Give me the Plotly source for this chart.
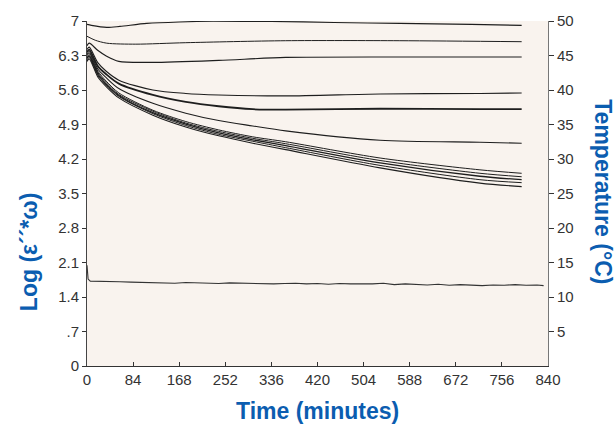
import plotly.graph_objects as go

# ---- data ----
curve_names = ["c1", "c2", "c3", "c4", "c5", "c6", "b1", "b2", "b3", "b4", "b5"]

t_c1 = [0, 8, 36, 60, 109, 168, 230, 336, 450, 570, 700, 792]
v_c1 = [6.93, 6.91, 6.87, 6.89, 6.95, 6.98, 6.995, 6.99, 6.97, 6.95, 6.93, 6.91]

t_c2 = [0, 15, 36, 89, 180, 362, 570, 792]
v_c2 = [6.69, 6.61, 6.55, 6.53, 6.56, 6.60, 6.60, 6.58]

t_c3 = [0, 4, 20, 35, 58, 120, 240, 362, 570, 792]
v_c3 = [6.50, 6.55, 6.40, 6.29, 6.18, 6.16, 6.20, 6.26, 6.27, 6.27]

t_c4 = [0, 4, 20, 35, 58, 120, 180, 240, 362, 534, 716, 792]
v_c4 = [6.42, 6.47, 6.15, 5.98, 5.80, 5.60, 5.53, 5.50, 5.48, 5.52, 5.53, 5.54]

t_c5 = [0, 4, 20, 35, 58, 120, 180, 240, 302, 362, 534, 716, 792]
v_c5 = [6.37, 6.42, 6.08, 5.92, 5.73, 5.50, 5.36, 5.27, 5.21, 5.20, 5.22, 5.21, 5.21]

t_c6 = [0, 4, 20, 35, 58, 120, 180, 240, 302, 362, 534, 716, 792]
v_c6 = [6.33, 6.38, 6.02, 5.85, 5.63, 5.33, 5.13, 4.98, 4.87, 4.77, 4.58, 4.54, 4.52]

t_b = [0, 4, 20, 35, 58, 120, 180, 240, 302, 362, 534, 716, 792]
v_b1 = [6.30, 6.35, 5.98, 5.78, 5.54, 5.19, 4.96, 4.79, 4.65, 4.55, 4.22, 3.98, 3.91]
v_b2 = [6.27, 6.32, 5.95, 5.75, 5.51, 5.17, 4.93, 4.76, 4.62, 4.51, 4.17, 3.91, 3.84]
v_b3 = [6.24, 6.29, 5.92, 5.72, 5.49, 5.14, 4.91, 4.73, 4.59, 4.47, 4.12, 3.85, 3.78]
v_b4 = [6.21, 6.26, 5.89, 5.70, 5.47, 5.12, 4.88, 4.70, 4.56, 4.43, 4.07, 3.78, 3.72]
v_b5 = [6.18, 6.23, 5.86, 5.67, 5.44, 5.09, 4.85, 4.67, 4.52, 4.39, 4.02, 3.71, 3.64]

# temperature trace (right axis, deg C)
t_temp = [0, 2, 6, 20, 40, 60, 80, 100, 120, 140, 160, 180, 200, 220, 240, 260,
          280, 300, 320, 340, 360, 380, 400, 420, 440, 460, 480, 500, 520, 540,
          560, 580, 600, 620, 640, 660, 680, 700, 720, 740, 760, 780, 800, 820, 832]
v_temp = [14.6, 12.6, 12.3, 12.25, 12.2, 12.2, 12.15, 12.1, 12.15, 12.05, 12.0,
          12.1, 12.05, 12.0, 11.95, 12.05, 12.0, 11.95, 12.0, 11.9, 11.95, 12.0,
          11.9, 11.95, 11.85, 11.95, 11.9, 11.85, 11.9, 12.0, 11.8, 11.9, 11.85,
          11.75, 11.85, 11.7, 11.8, 11.75, 11.65, 11.75, 11.7, 11.8, 11.7, 11.75, 11.65]

x_ticks = [0, 84, 168, 252, 336, 420, 504, 588, 672, 756, 840]
y_ticks = [0, 0.7, 1.4, 2.1, 2.8, 3.5, 4.2, 4.9, 5.6, 6.3, 7]
y_tick_text = ["0", ".7", "1.4", "2.1", "2.8", "3.5", "4.2", "4.9", "5.6", "6.3", "7"]
y2_ticks = [5, 10, 15, 20, 25, 30, 35, 40, 45, 50]

series = [
    (t_c1, v_c1, 1.2), (t_c2, v_c2, 1.0), (t_c3, v_c3, 1.2),
    (t_c4, v_c4, 1.1), (t_c5, v_c5, 1.8), (t_c6, v_c6, 1.1),
    (t_b, v_b1, 1.0), (t_b, v_b2, 1.0), (t_b, v_b3, 1.3),
    (t_b, v_b4, 1.0), (t_b, v_b5, 1.1),
]

fig = go.Figure()
for (tx, vy, w), name in zip(series, curve_names):
    fig.add_trace(go.Scatter(x=tx, y=vy, mode="lines", name=name,
                             line=dict(color="#1e1e1e", width=w, shape="spline", smoothing=0.8),
                             showlegend=False, hoverinfo="skip"))

fig.add_trace(go.Scatter(x=t_temp, y=v_temp, mode="lines", yaxis="y2",
                         line=dict(color="#333333", width=1.1),
                         showlegend=False, hoverinfo="skip"))

title_color = "#0b5db0"
tick_font = dict(family="Liberation Sans, Arial, sans-serif", size=15, color="#333333")

fig.update_layout(
    width=615, height=424,
    margin=dict(l=87, r=67, t=21, b=58),
    paper_bgcolor="white",
    plot_bgcolor="#f9f3ee",
    font=dict(family="Liberation Sans, Arial, sans-serif"),
    xaxis=dict(range=[0, 840], tickvals=x_ticks, ticks="inside", ticklen=4,
               tickcolor="#333333", showline=True, linecolor="#333333", linewidth=1,
               showgrid=False, zeroline=False, tickfont=tick_font),
    yaxis=dict(range=[0, 7], tickvals=y_ticks, ticktext=y_tick_text, ticks="outside",
               ticklen=4, tickcolor="#333333", showline=True, linecolor="#444444",
               linewidth=1, showgrid=False, zeroline=False, tickfont=tick_font),
    yaxis2=dict(range=[0, 50], tickvals=y2_ticks, overlaying="y", side="right",
                ticks="outside", ticklen=5, tickcolor="#333333", showline=True,
                linecolor="#777777", linewidth=1, showgrid=False, zeroline=False,
                tickfont=tick_font),
    annotations=[
        dict(text="<b>Log (ε´´*ω)</b>", xref="paper", yref="paper",
             x=-0.1258, y=0.33, xanchor="center", yanchor="middle", textangle=-90,
             showarrow=False, font=dict(size=23, color=title_color)),
        dict(text="<b>Temperature (°C)</b>", xref="paper", yref="paper",
             x=1.119, y=0.504, xanchor="center", yanchor="middle", textangle=90,
             showarrow=False, font=dict(size=23, color=title_color)),
        dict(text="<b>Time (minutes)</b>", xref="paper", yref="paper",
             x=0.5, y=-0.1304, xanchor="center", yanchor="middle",
             showarrow=False, font=dict(size=23, color=title_color)),
    ],
)

fig.write_html("out.html")
